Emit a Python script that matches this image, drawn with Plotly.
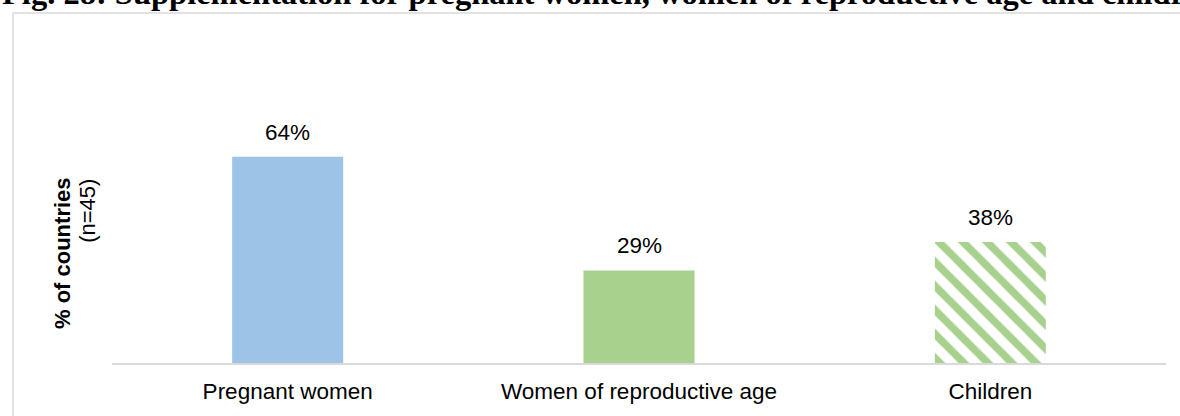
import plotly.graph_objects as go

categories = ["Pregnant women", "Women of reproductive age", "Children"]
values = [64.4, 28.9, 37.8]          # % of countries (n=45)
labels = ["64%", "29%", "38%"]
title_text = "Fig. 28: Supplementation for pregnant women, women of reproductive age and children"
ytitle_bold = "% of countries"
ytitle_sub = "(n=45)"

BLUE = "#9DC3E6"
GREEN = "#A9D18E"
GREY = "#D9D9D9"
FONT = "Arial, Liberation Sans, sans-serif"

W, H = 1180, 416
L, R, T, B = 112, 14, 40, 47
pw, ph = W - L - R, H - T - B

def px_x(px):
    return (px - L) / pw

def px_y(py):
    return (H - B - py) / ph

fig = go.Figure()
# solid bars
fig.add_trace(go.Bar(
    x=categories[:2], y=values[:2], width=0.316,
    marker=dict(color=[BLUE, GREEN], line=dict(width=0)),
    hoverinfo="skip",
))
# striped bar
fig.add_trace(go.Bar(
    x=categories[2:], y=values[2:], width=0.316,
    marker=dict(color=GREEN, line=dict(width=0),
                pattern=dict(shape="\\", fgcolor=GREEN, bgcolor="white",
                             size=17, solidity=0.45, fillmode="replace")),
    hoverinfo="skip",
))

annotations = []
for c, v, t in zip(categories, values, labels):
    annotations.append(dict(x=c, y=v, xref="x", yref="y", text=t, showarrow=False,
                            yanchor="bottom", yshift=10,
                            font=dict(family=FONT, size=22.5, color="black")))

annotations.append(dict(x=px_x(62), y=px_y(257), xref="paper", yref="paper",
                        text="<b>" + ytitle_bold + "</b>", textangle=-90, showarrow=False,
                        xanchor="center", yanchor="middle",
                        font=dict(family=FONT, size=22, color="black")))
annotations.append(dict(x=px_x(88), y=px_y(214), xref="paper", yref="paper",
                        text=ytitle_sub, textangle=-90, showarrow=False,
                        xanchor="center", yanchor="middle",
                        font=dict(family=FONT, size=22, color="black")))
annotations.append(dict(x=px_x(0), y=px_y(13), xref="paper", yref="paper",
                        text="<b>" + title_text + "</b>", showarrow=False,
                        xanchor="left", yanchor="bottom",
                        font=dict(family="Liberation Serif, Times New Roman, serif", size=32.5, color="black")))

fig.update_layout(
    width=W, height=H,
    margin=dict(l=L, r=R, t=T, b=B, pad=0),
    paper_bgcolor="white", plot_bgcolor="white",
    showlegend=False,
    barmode="overlay",
    annotations=annotations,
    shapes=[dict(type="rect", xref="paper", yref="paper",
                 x0=px_x(13), x1=px_x(1195), y0=px_y(430), y1=px_y(12.5),
                 line=dict(color=GREY, width=1.5), fillcolor="rgba(0,0,0,0)", layer="below")],
    xaxis=dict(showline=True, linecolor=GREY, linewidth=2, ticks="", showgrid=False,
               categoryorder="array", categoryarray=categories,
               tickfont=dict(family=FONT, size=22.5, color="black"), ticklabelstandoff=7),
    yaxis=dict(range=[0, 100.9], visible=False, showgrid=False, zeroline=False),
)

fig.write_html("out.html", config={"displayModeBar": False},
               post_script="document.body.style.margin='0';document.body.style.overflow='hidden';")
